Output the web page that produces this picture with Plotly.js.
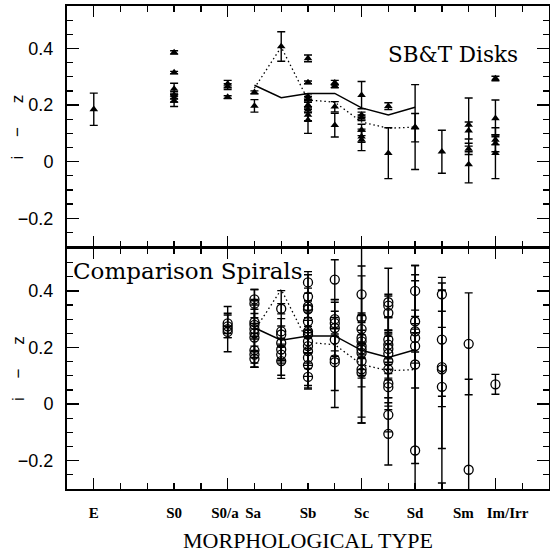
<!DOCTYPE html>
<html>
<head>
<meta charset="utf-8">
<script src="https://cdn.plot.ly/plotly-3.0.1.min.js"></script>
<style>html,body{margin:0;padding:0;background:#fff;}</style>
</head>
<body>
<div id="chart" style="width:550px;height:554px;"></div>
<script>
// Morphological type labels (de Vaucouleurs T) and their label positions
const typeLabels = ["E", "S0", "S0/a", "Sa", "Sb", "Sc", "Sd", "Sm", "Im/Irr"];
const typeLabelPos = [-5, -2, -0.1, 0.95, 3, 5, 7, 8.8, 10.45];

// SB&T disks (top panel): T type, i-z, error
const sbtT = [-5,
  -2, -2, -2, -2, -2, -2,
  0, 0, 0,
  1, 1,
  2,
  3, 3, 3, 3, 3, 3, 3, 3,
  4, 4, 4, 4,
  5, 5, 5, 5, 5, 5,
  6, 6,
  7, 7,
  8,
  9, 9, 9, 9,
  10, 10, 10, 10, 10];
const sbtIZ = [0.185,
  0.386, 0.315, 0.257, 0.235, 0.225, 0.215,
  0.275, 0.265, 0.228,
  0.245, 0.197,
  0.407,
  0.365, 0.280, 0.230, 0.220, 0.200, 0.183, 0.165, 0.147,
  0.279, 0.267, 0.194, 0.129,
  0.235, 0.165, 0.155, 0.112, 0.088, 0.077,
  0.196, 0.030,
  0.122, 0.120,
  0.035,
  0.130, 0.110, 0.045, -0.010,
  0.294, 0.153, 0.077, 0.065, 0.030];
const sbtErr = [0.057,
  0.006, 0.004, 0.020, 0.012, 0.014, 0.020,
  0.012, 0.010, 0.005,
  0.005, 0.022,
  0.052,
  0.012, 0.005, 0.010, 0.010, 0.015, 0.010, 0.020, 0.047,
  0.008, 0.006, 0.018, 0.042,
  0.048, 0.010, 0.010, 0.020, 0.020, 0.038,
  0.012, 0.090,
  0.150, 0.050,
  0.076,
  0.095, 0.030, 0.020, 0.065,
  0.008, 0.065, 0.017, 0.030, 0.090];

// Comparison spirals (bottom panel): T type, i-z, error
const compT = [
  0, 0, 0, 0,
  1, 1, 1, 1, 1, 1, 1, 1, 1, 1,
  2, 2, 2, 2, 2, 2, 2,
  3, 3, 3, 3, 3, 3, 3, 3, 3, 3, 3, 3, 3,
  4, 4, 4, 4, 4, 4, 4,
  5, 5, 5, 5, 5, 5, 5, 5, 5, 5, 5,
  6, 6, 6, 6, 6, 6, 6, 6, 6, 6, 6, 6, 6,
  7, 7, 7, 7, 7, 7, 7,
  8, 8, 8, 8, 8,
  9, 9,
  10];
const compIZ = [
  0.285, 0.275, 0.265, 0.255,
  0.370, 0.355, 0.290, 0.280, 0.265, 0.250, 0.235, 0.190, 0.175, 0.160,
  0.337, 0.257, 0.246, 0.216, 0.193, 0.175, 0.152,
  0.430, 0.380, 0.345, 0.335, 0.292, 0.257, 0.246, 0.222, 0.205, 0.187, 0.164, 0.138, 0.096,
  0.440, 0.300, 0.286, 0.269, 0.228, 0.158, 0.148,
  0.388, 0.304, 0.265, 0.234, 0.222, 0.205, 0.193, 0.181, 0.152, 0.123, 0.111,
  0.360, 0.348, 0.322, 0.228, 0.210, 0.195, 0.178, 0.152, 0.123, 0.073, 0.060, -0.038, -0.105,
  0.400, 0.292, 0.257, 0.234, 0.205, 0.140, -0.164,
  0.388, 0.228, 0.131, 0.123, 0.061,
  0.213, -0.232,
  0.070];
const compErr = [
  0.036, 0.040, 0.080, 0.020,
  0.035, 0.050, 0.060, 0.040, 0.100, 0.120, 0.050, 0.060, 0.030, 0.030,
  0.018, 0.045, 0.155, 0.060, 0.040, 0.030, 0.050,
  0.038, 0.030, 0.020, 0.030, 0.040, 0.200, 0.050, 0.040, 0.060, 0.050, 0.111, 0.040, 0.030,
  0.070, 0.060, 0.020, 0.100, 0.040, 0.170, 0.100,
  0.100, 0.350, 0.050, 0.060, 0.100, 0.040, 0.260, 0.080, 0.060, 0.190, 0.050,
  0.120, 0.040, 0.060, 0.080, 0.050, 0.110, 0.070, 0.060, 0.130, 0.050, 0.080, 0.060, 0.110,
  0.090, 0.040, 0.200, 0.050, 0.060, 0.350, 0.600,
  0.060, 0.200, 0.140, 0.280, 0.340,
  0.180, 0.320,
  0.035];

// Mean relations (solid) and comparison relation (dotted)
const meanT = [1, 2, 3, 4, 5, 6, 7];
const meanSolid = [0.270, 0.226, 0.241, 0.241, 0.190, 0.165, 0.192];
const meanDotted = [0.260, 0.405, 0.218, 0.210, 0.140, 0.118, 0.122];

const errStyle = (arr) => ({type: 'data', array: arr, visible: true, color: '#000', thickness: 1.4, width: 4});
const dotLine = {color: '#000', width: 1.3, dash: '1.5px,2.8px'};

const traces = [
  {x: sbtT, y: sbtIZ, xaxis: 'x', yaxis: 'y', mode: 'markers', type: 'scatter',
   marker: {symbol: 'triangle-up', size: 7.5, color: '#000', line: {width: 0}},
   error_y: errStyle(sbtErr), showlegend: false, hoverinfo: 'x+y'},
  {x: meanT, y: meanSolid, xaxis: 'x', yaxis: 'y', mode: 'lines', type: 'scatter',
   line: {color: '#000', width: 1.5}, showlegend: false},
  {x: meanT, y: meanDotted, xaxis: 'x', yaxis: 'y', mode: 'lines', type: 'scatter',
   line: dotLine, showlegend: false},
  {x: compT, y: compIZ, xaxis: 'x2', yaxis: 'y2', mode: 'markers', type: 'scatter',
   marker: {symbol: 'circle-open', size: 9, color: '#000', line: {width: 1.3, color: '#000'}},
   error_y: errStyle(compErr), showlegend: false, hoverinfo: 'x+y'},
  {x: meanT, y: meanSolid, xaxis: 'x2', yaxis: 'y2', mode: 'lines', type: 'scatter',
   line: {color: '#000', width: 1.5}, showlegend: false},
  {x: meanT, y: meanDotted, xaxis: 'x2', yaxis: 'y2', mode: 'lines', type: 'scatter',
   line: dotLine, showlegend: false},
  {x: [null], y: [null], xaxis: 'x3', yaxis: 'y2', mode: 'markers', type: 'scatter',
   showlegend: false, hoverinfo: 'skip'}
];

const xr = [-6, 12];
const yr = [-0.3, 0.55];
const xCommon = {
  range: xr, showgrid: false, zeroline: false, showline: true, linecolor: '#000', linewidth: 2,
  mirror: 'ticks', ticks: 'inside', tick0: -5, dtick: 5, ticklen: 11, tickwidth: 1.3, tickcolor: '#000',
  minor: {dtick: 1, tick0: 0, ticks: 'inside', ticklen: 6, tickwidth: 1.3, tickcolor: '#000'},
  showticklabels: false, fixedrange: true
};
const yCommon = {
  range: yr, showgrid: false, zeroline: false, showline: true, linecolor: '#000', linewidth: 2,
  mirror: 'ticks', ticks: 'inside', tick0: 0, dtick: 0.2, ticklen: 12, tickwidth: 1.3, tickcolor: '#000',
  minor: {dtick: 0.05, tick0: 0, ticks: 'inside', ticklen: 6, tickwidth: 1.3, tickcolor: '#000'},
  tickfont: {family: 'Liberation Sans, Arial, sans-serif', size: 18, color: '#000'},
  ticklabelstandoff: 8, tickformat: '.1~f', fixedrange: true
};

const nb = '\u00A0';
const yTitle = 'i' + nb + nb + nb + nb + '\u2212' + nb + nb + nb + nb + nb + 'z';

const layout = {
  width: 550, height: 554,
  margin: {l: 67, r: 1, t: 6, b: 65},
  paper_bgcolor: '#fff', plot_bgcolor: '#fff',
  xaxis: Object.assign({}, xCommon, {anchor: 'y', domain: [0, 1]}),
  yaxis: Object.assign({}, yCommon, {anchor: 'x', domain: [0.502, 1]}),
  xaxis2: Object.assign({}, xCommon, {anchor: 'y2', domain: [0, 1]}),
  yaxis2: Object.assign({}, yCommon, {anchor: 'x2', domain: [0, 0.498]}),
  xaxis3: {
    overlaying: 'x2', anchor: 'y2', side: 'bottom', range: xr,
    showgrid: false, zeroline: false, showline: false, ticks: '',
    tickmode: 'array', tickvals: typeLabelPos, ticktext: typeLabels,
    tickfont: {family: 'Liberation Serif, Times New Roman, serif', size: 15, color: '#000', weight: 'bold'},
    ticklabelstandoff: 13, fixedrange: true,
    title: {text: 'MORPHOLOGICAL TYPE', standoff: 12,
            font: {family: 'Liberation Serif, Times New Roman, serif', size: 22, color: '#000'}}
  },
  annotations: [
    {text: 'SB&T Disks', xref: 'paper', yref: 'paper', x: 0.80, y: 0.899,
     xanchor: 'center', yanchor: 'middle', showarrow: false,
     font: {family: 'DejaVu Serif, serif', size: 21.5, color: '#000'}},
    {text: 'Comparison Spirals', xref: 'paper', yref: 'paper', x: 0.008, y: 0.452,
     xanchor: 'left', yanchor: 'middle', showarrow: false,
     font: {family: 'DejaVu Serif, serif', size: 23, color: '#000'}},
    {text: yTitle, xref: 'paper', yref: 'paper', x: -0.102, y: 0.75, textangle: -90,
     xanchor: 'center', yanchor: 'middle', showarrow: false,
     font: {family: 'Liberation Sans, Arial, sans-serif', size: 17, color: '#000'}},
    {text: yTitle, xref: 'paper', yref: 'paper', x: -0.102, y: 0.25, textangle: -90,
     xanchor: 'center', yanchor: 'middle', showarrow: false,
     font: {family: 'Liberation Sans, Arial, sans-serif', size: 17, color: '#000'}}
  ],
  showlegend: false
};

Plotly.newPlot('chart', traces, layout, {staticPlot: true, displayModeBar: false});
</script>
</body>
</html>
